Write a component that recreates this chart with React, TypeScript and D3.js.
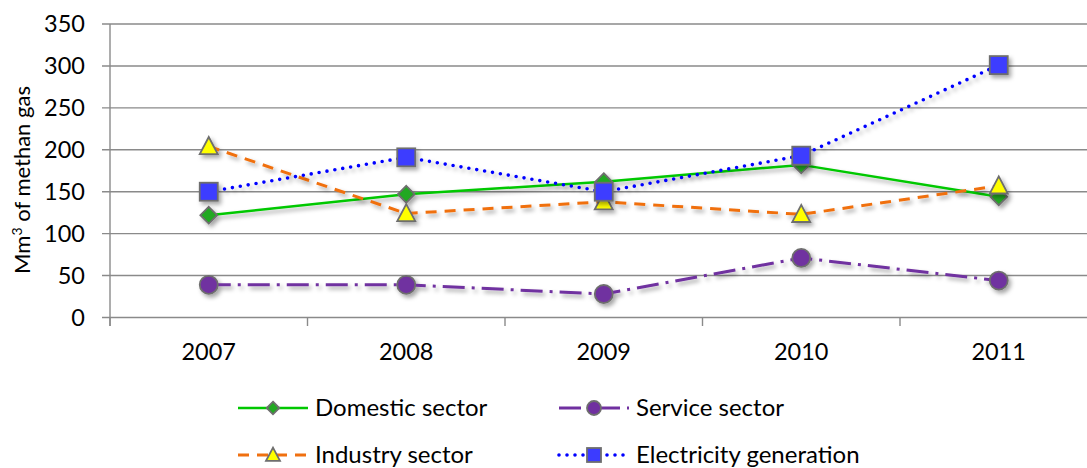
import React from 'react';
import * as d3 from 'd3';

const years = ['2007', '2008', '2009', '2010', '2011'];
const domestic = [122, 147, 162, 182, 144];
const service = [39, 39, 28, 71, 44];
const industry = [204, 124, 138, 123, 157];
const electricity = [150, 191, 150, 193, 301];
const yTicks = [0, 50, 100, 150, 200, 250, 300, 350];

const WIDTH = 1087;
const HEIGHT = 468;
const FONT = 'Lato, "Liberation Sans", sans-serif';

type MarkerKind = 'diamond' | 'circle' | 'triangle' | 'square';

interface Series {
  name: string;
  values: number[];
  color: string;
  width: number;
  dash?: string;
  cap: 'butt' | 'round';
  marker: MarkerKind;
  fill: string;
}

const series: Series[] = [
  { name: 'Domestic sector', values: domestic, color: '#00c800', width: 2.5, cap: 'butt', marker: 'diamond', fill: '#22a822' },
  { name: 'Service sector', values: service, color: '#7030a0', width: 3, dash: '22 7 3 7', cap: 'butt', marker: 'circle', fill: '#7030a0' },
  { name: 'Industry sector', values: industry, color: '#f07010', width: 3, dash: '11 8', cap: 'butt', marker: 'triangle', fill: '#ffff00' },
  { name: 'Electricity generation', values: electricity, color: '#0000ff', width: 3.6, dash: '0 8', cap: 'round', marker: 'square', fill: '#3c3cff' },
];

const Marker: React.FC<{ kind: MarkerKind; x: number; y: number; fill: string; size: number }> = ({ kind, x, y, fill, size }) => {
  const s = size / 2;
  const stroke = '#6e6e6e';
  const sw = 1.8;
  if (kind === 'circle') return <circle cx={x} cy={y} r={s} fill={fill} stroke={stroke} strokeWidth={sw} />;
  if (kind === 'square') return <rect x={x - s} y={y - s} width={size} height={size} fill={fill} stroke={stroke} strokeWidth={sw} />;
  if (kind === 'diamond') {
    const d = s * 1.05;
    return <path d={`M${x},${y - d}L${x + d},${y}L${x},${y + d}L${x - d},${y}Z`} fill={fill} stroke={stroke} strokeWidth={sw} />;
  }
  return <path d={`M${x},${y - s * 1.05}L${x + s},${y + s * 0.85}L${x - s},${y + s * 0.85}Z`} fill={fill} stroke={stroke} strokeWidth={sw} />;
};

const App: React.FC = () => {
  const margin = { left: 110, top: 24, bottom: 317.5 };
  const x = d3.scaleBand<string>().domain(years).range([margin.left, margin.left + 197.5 * years.length]);
  const y = d3.scaleLinear().domain([0, 350]).range([margin.bottom, margin.top]);
  const cx = (yr: string) => (x(yr) as number) + x.bandwidth() / 2;
  const line = d3.line<number>().x((_, i) => cx(years[i])).y(d => y(d));
  const grid = '#8a8a8a';

  const legendItems = [
    { s: series[0], lx: 238, ly: 408 },
    { s: series[1], lx: 559, ly: 408 },
    { s: series[2], lx: 238, ly: 455 },
    { s: series[3], lx: 559, ly: 455 },
  ];

  return (
    <svg width={WIDTH} height={HEIGHT} style={{ position: 'fixed', left: 0, top: 0, background: '#fff' }} fontFamily={FONT}>
      <defs>
        <filter id="shadow" x="-10%" y="-10%" width="130%" height="140%">
          <feDropShadow dx={2.5} dy={3} stdDeviation={2} floodColor="#000" floodOpacity={0.35} />
        </filter>
      </defs>

      {/* gridlines + y ticks */}
      {yTicks.map(t => (
        <g key={t}>
          <line x1={102} x2={WIDTH} y1={y(t)} y2={y(t)} stroke={grid} strokeWidth={1.4} />
          <text x={85} y={y(t)} dy="0.35em" textAnchor="end" fontSize={23.5} fill="#000">{t}</text>
        </g>
      ))}
      <line x1={margin.left} x2={margin.left} y1={y(350)} y2={326} stroke={grid} strokeWidth={1.4} />
      {d3.range(years.length + 1).map(i => {
        const tx = margin.left + i * x.bandwidth();
        return <line key={i} x1={tx} x2={tx} y1={y(0)} y2={326} stroke={grid} strokeWidth={1.4} />;
      })}
      {years.map(yr => (
        <text key={yr} x={cx(yr)} y={360} textAnchor="middle" fontSize={23.5} fill="#000">{yr}</text>
      ))}
      <text transform={`translate(30,180) rotate(-90)`} textAnchor="middle" fontSize={22} fill="#000">
        Mm<tspan dy={-8} fontSize={14}>3</tspan><tspan dy={8}> of methan gas</tspan>
      </text>

      {/* series */}
      {series.map(s => (
        <g key={s.name} filter="url(#shadow)">
          <path d={line(s.values) || ''} fill="none" stroke={s.color} strokeWidth={s.width}
            strokeDasharray={s.dash} strokeLinecap={s.cap} strokeLinejoin="round" />
          {s.values.map((v, i) => (
            <Marker key={i} kind={s.marker} x={cx(years[i])} y={y(v)} fill={s.fill} size={s.marker === 'diamond' ? 16 : 18} />
          ))}
        </g>
      ))}

      {/* legend */}
      {legendItems.map(({ s, lx, ly }) => (
        <g key={s.name}>
          <line x1={lx} x2={lx + 70} y1={ly} y2={ly} stroke={s.color} strokeWidth={s.width}
            strokeDasharray={s.dash} strokeLinecap={s.cap} />
          <Marker kind={s.marker} x={lx + 35} y={ly} fill={s.fill} size={s.marker === 'diamond' ? 12 : 14} />
          <text x={lx + 77} y={ly} dy="0.35em" fontSize={24} fill="#000">{s.name}</text>
        </g>
      ))}
    </svg>
  );
};

export default App;
